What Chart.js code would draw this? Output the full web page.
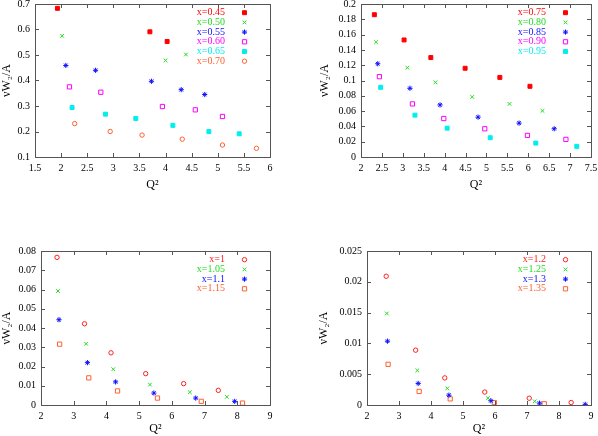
<!DOCTYPE html>
<html>
<head>
<meta charset="utf-8">
<script src="https://cdn.jsdelivr.net/npm/chart.js@4"></script>
<style>
  html, body { margin: 0; padding: 0; background: #fff; }
  .panel { position: absolute; width: 299px; height: 218px; }
</style>
</head>
<body>
<div class="panel" style="left:0;top:0"><canvas id="c1" width="299" height="218"></canvas></div>
<div class="panel" style="left:299px;top:0"><canvas id="c2" width="299" height="218"></canvas></div>
<div class="panel" style="left:0;top:218px"><canvas id="c3" width="299" height="218"></canvas></div>
<div class="panel" style="left:299px;top:218px"><canvas id="c4" width="299" height="218"></canvas></div>
<script>
// ---- data: Q^2 and nuW2/A for each x bin ----

// top left: x = 0.45 .. 0.70
const labels1 = ['x=0.45', 'x=0.50', 'x=0.55', 'x=0.60', 'x=0.65', 'x=0.70'];
const q2_1 = [
  [1.93, 3.70, 4.03],
  [2.02, 4.00, 4.39],
  [2.09, 2.66, 3.73, 4.30, 4.75],
  [2.16, 2.76, 3.94, 4.57, 5.09],
  [2.21, 2.85, 3.43, 4.14, 4.83, 5.41],
  [2.26, 2.94, 3.55, 4.32, 5.09, 5.74]
];
const w2_1 = [
  [0.683, 0.591, 0.553],
  [0.575, 0.479, 0.502],
  [0.459, 0.440, 0.397, 0.364, 0.345],
  [0.375, 0.354, 0.298, 0.285, 0.259],
  [0.294, 0.268, 0.251, 0.224, 0.200, 0.191],
  [0.231, 0.200, 0.186, 0.170, 0.147, 0.134]
];
const xTicks1 = [1.5, 2, 2.5, 3, 3.5, 4, 4.5, 5, 5.5, 6];
const yTicks1 = [0.1, 0.2, 0.3, 0.4, 0.5, 0.6, 0.7];

// top right: x = 0.75 .. 0.95
const labels2 = ['x=0.75', 'x=0.80', 'x=0.85', 'x=0.90', 'x=0.95'];
const q2_2 = [
  [2.32, 3.03, 3.67, 4.49, 5.32, 6.04],
  [2.36, 3.11, 3.78, 4.66, 5.55, 6.34],
  [2.40, 3.17, 3.89, 4.80, 5.78, 6.62],
  [2.44, 3.23, 3.98, 4.96, 5.98, 6.90],
  [2.47, 3.29, 4.06, 5.09, 6.18, 7.16]
];
const w2_2 = [
  [0.186, 0.153, 0.130, 0.116, 0.104, 0.0924],
  [0.150, 0.1167, 0.0976, 0.0785, 0.0694, 0.0603],
  [0.1219, 0.0898, 0.0681, 0.0521, 0.0443, 0.0369],
  [0.105, 0.0694, 0.0503, 0.0369, 0.0282, 0.0230],
  [0.0911, 0.0547, 0.0377, 0.0252, 0.0182, 0.0139]
];
const xTicks2 = [2, 2.5, 3, 3.5, 4, 4.5, 5, 5.5, 6, 6.5, 7, 7.5];
const yTicks2 = [0, 0.02, 0.04, 0.06, 0.08, 0.1, 0.12, 0.14, 0.16, 0.18, 0.2];

// bottom left: x = 1 .. 1.15
const labels3 = ['x=1', 'x=1.05', 'x=1.1', 'x=1.15'];
const q2_3 = [
  [2.49, 3.33, 4.14, 5.20, 6.36, 7.42],
  [2.52, 3.38, 4.21, 5.33, 6.55, 7.68],
  [2.55, 3.42, 4.28, 5.45, 6.73, 7.92],
  [2.57, 3.46, 4.34, 5.56, 6.90, 8.16]
];
const w2_3 = [
  [0.0767, 0.0422, 0.0271, 0.0163, 0.0111, 0.0076],
  [0.0592, 0.0318, 0.0186, 0.0106, 0.0066, 0.0042],
  [0.0443, 0.0220, 0.0120, 0.0062, 0.0036, 0.0019],
  [0.0316, 0.0141, 0.0073, 0.0036, 0.0019, 0.0010]
];
const xTicks3 = [2, 3, 4, 5, 6, 7, 8, 9];
const yTicks3 = [0, 0.01, 0.02, 0.03, 0.04, 0.05, 0.06, 0.07, 0.08];

// bottom right: x = 1.2 .. 1.35
const labels4 = ['x=1.2', 'x=1.25', 'x=1.3', 'x=1.35'];
const q2_4 = [
  [2.60, 3.52, 4.43, 5.68, 7.07, 8.38],
  [2.62, 3.57, 4.51, 5.78, 7.24],
  [2.64, 3.60, 4.56, 5.87, 7.39, 8.82],
  [2.66, 3.63, 4.60, 5.98, 7.54]
];
const w2_4 = [
  [0.0209, 0.0089, 0.0044, 0.0021, 0.0011, 0.0004],
  [0.01486, 0.0056, 0.0027, 0.0011, 0.0006],
  [0.01036, 0.0035, 0.0016, 0.0007, 0.0003, 0.0001],
  [0.0066, 0.0022, 0.0010, 0.0004, 0.0002]
];
const xTicks4 = [2, 3, 4, 5, 6, 7, 8, 9];
const yTicks4 = [0, 0.005, 0.01, 0.015, 0.02, 0.025];

// ---- marker styles (gnuplot-like) ----
const SERIF = '"Liberation Serif", "DejaVu Serif", serif';
const marks = {
  redSq:     { pointStyle: 'rect',     color: '#ff0000', fill: '#ff0000', r: 2.8 },
  redCirc:   { pointStyle: 'circle',   color: '#ff2020', fill: 'rgba(0,0,0,0)', r: 2.2 },
  greenX:    { pointStyle: 'crossRot', color: '#20dd20', fill: 'rgba(0,0,0,0)', r: 2.6 },
  blueStar:  { pointStyle: 'star',     color: '#1010ff', fill: 'rgba(0,0,0,0)', r: 2.6 },
  magSq:     { pointStyle: 'rect',     color: '#ff00ff', fill: 'rgba(0,0,0,0)', r: 3 },
  cyanSq:    { pointStyle: 'rect',     color: '#00eeee', fill: '#00eeee', r: 2.8 },
  orangeCir: { pointStyle: 'circle',   color: '#ff6030', fill: 'rgba(0,0,0,0)', r: 2.2 },
  orangeSq:  { pointStyle: 'rect',     color: '#ff6030', fill: 'rgba(0,0,0,0)', r: 3 }
};

// inward tick marks on all four sides + frame
const gnuFrame = {
  id: 'gnuFrame',
  afterDatasetsDraw(chart) {
    const { ctx, chartArea: a, scales: { x, y } } = chart;
    ctx.save();
    ctx.strokeStyle = '#555';
    ctx.lineWidth = 1;
    ctx.beginPath();
    x.ticks.forEach(t => {
      const px = Math.round(x.getPixelForValue(t.value)) + 0.5;
      ctx.moveTo(px, a.bottom); ctx.lineTo(px, a.bottom - 4);
      ctx.moveTo(px, a.top); ctx.lineTo(px, a.top + 4);
    });
    y.ticks.forEach(t => {
      const py = Math.round(y.getPixelForValue(t.value)) + 0.5;
      ctx.moveTo(a.left, py); ctx.lineTo(a.left + 4, py);
      ctx.moveTo(a.right, py); ctx.lineTo(a.right - 4, py);
    });
    ctx.stroke();
    ctx.strokeRect(Math.round(a.left) + 0.5, Math.round(a.top) + 0.5,
                   Math.round(a.width), Math.round(a.height));
    ctx.restore();
  }
};

// key: right-aligned coloured text, marker on the right
const gnuKey = {
  id: 'gnuKey',
  afterDraw(chart) {
    const { ctx, chartArea: a } = chart;
    ctx.save();
    ctx.font = '10px ' + SERIF;
    ctx.textAlign = 'right';
    ctx.textBaseline = 'middle';
    chart.data.datasets.forEach((ds, i) => {
      const yy = a.top + 8.7 + i * 9.7;
      ctx.fillStyle = ds.borderColor;
      ctx.fillText(ds.label, a.right - 45, yy);
      ctx.fillStyle = ds.backgroundColor;
      ctx.strokeStyle = ds.borderColor;
      ctx.lineWidth = 1;
      Chart.helpers.drawPoint(ctx, { pointStyle: ds.pointStyle, radius: ds.pointRadius, borderWidth: 1, rotation: 0 },
                              a.right - 25.5, yy);
    });
    ctx.restore();
  }
};

const fmt = v => String(+v.toFixed(4));

function makePanel(id, labels, q2, w2, styleKeys, xTicks, yTicks, lay) {
  const datasets = labels.map((lab, i) => {
    const m = marks[styleKeys[i]];
    return {
      label: lab,
      data: q2[i].map((q, j) => ({ x: q, y: w2[i][j] })),
      pointStyle: m.pointStyle,
      pointRadius: m.r,
      pointHoverRadius: m.r,
      pointBorderWidth: 1,
      borderColor: m.color,
      backgroundColor: m.fill,
      showLine: false
    };
  });
  new Chart(document.getElementById(id), {
    type: 'scatter',
    data: { datasets },
    plugins: [gnuFrame, gnuKey],
    options: {
      responsive: false,
      animation: false,
      events: [],
      layout: { padding: { top: lay.top, right: lay.right, left: 0, bottom: 0 } },
      plugins: { legend: { display: false }, tooltip: { enabled: false } },
      scales: {
        x: {
          type: 'linear',
          min: xTicks[0], max: xTicks[xTicks.length - 1],
          afterBuildTicks: s => { s.ticks = xTicks.map(v => ({ value: v })); },
          afterFit: s => { s.height = lay.xH; s.paddingLeft = 0; s.paddingRight = 0; },
          grid: { display: false, drawTicks: false },
          border: { display: false },
          ticks: { padding: 5, color: '#000', font: { family: SERIF, size: 10 },
                   maxRotation: 0, autoSkip: false, callback: fmt },
          title: { display: true, text: 'Q²', color: '#000',
                   font: { family: SERIF, size: 12 },
                   padding: { top: 0, bottom: lay.xTitle } }
        },
        y: {
          type: 'linear',
          min: yTicks[0], max: yTicks[yTicks.length - 1],
          afterBuildTicks: s => { s.ticks = yTicks.map(v => ({ value: v })); },
          afterFit: s => { s.width = lay.yW; s.paddingTop = 0; s.paddingBottom = 0; },
          grid: { display: false, drawTicks: false },
          border: { display: false },
          ticks: { padding: 5, color: '#000', font: { family: SERIF, size: 10 },
                   autoSkip: false, callback: fmt },
          title: { display: true, text: 'νW₂/A', color: '#000',
                   font: { family: SERIF, size: 12 },
                   padding: { top: lay.yTitle, bottom: 0 } }
        }
      }
    }
  });
}

makePanel('c1', labels1, q2_1, w2_1,
  ['redSq', 'greenX', 'blueStar', 'magSq', 'cyanSq', 'orangeCir'], xTicks1, yTicks1,
  { top: 3, right: 29, yW: 35, xH: 61, yTitle: 0, xTitle: 26 });
makePanel('c2', labels2, q2_2, w2_2,
  ['redSq', 'greenX', 'blueStar', 'magSq', 'cyanSq'], xTicks2, yTicks2,
  { top: 3, right: 7, yW: 62, xH: 61, yTitle: 19, xTitle: 26 });
makePanel('c3', labels3, q2_3, w2_3,
  ['redCirc', 'greenX', 'blueStar', 'orangeSq'], xTicks3, yTicks3,
  { top: 33, right: 29, yW: 41, xH: 31, yTitle: 0, xTitle: 0 });
makePanel('c4', labels4, q2_4, w2_4,
  ['redCirc', 'greenX', 'blueStar', 'orangeSq'], xTicks4, yTicks4,
  { top: 33, right: 7, yW: 68, xH: 31, yTitle: 18, xTitle: 0 });
</script>
</body>
</html>
